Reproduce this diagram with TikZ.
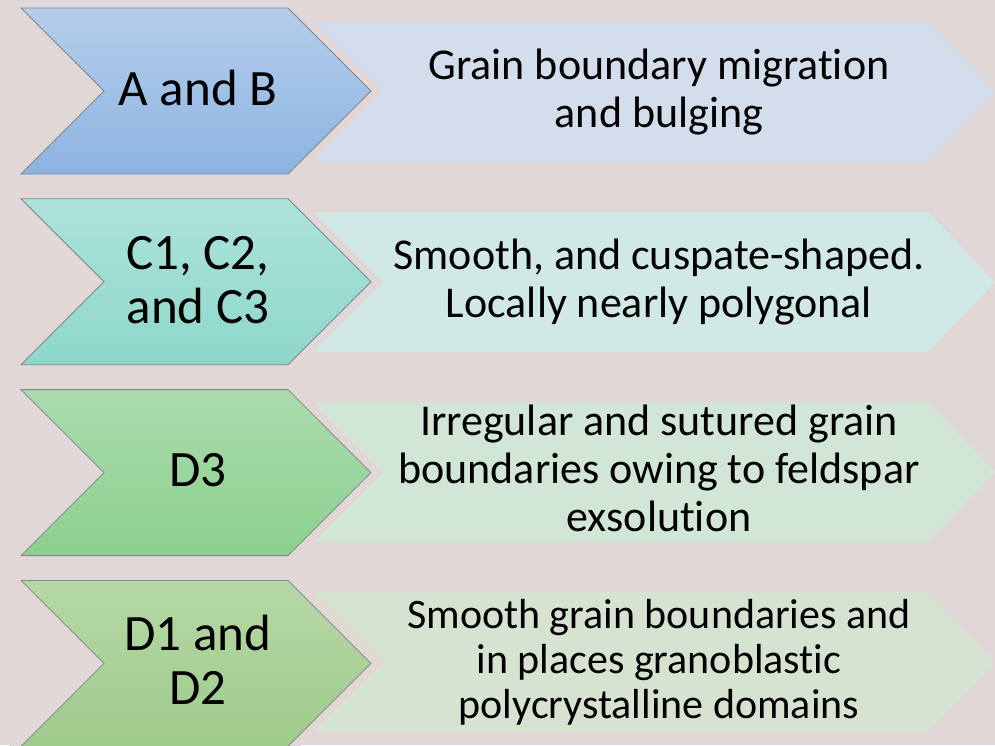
\documentclass[tikz,border=0pt]{standalone}
\usepackage{fontspec}
\setmainfont{Carlito}[Ligatures=NoCommon]
\usepackage{tikz}
\usetikzlibrary{shapes.symbols}
\usetikzlibrary{positioning}
\definecolor{bgcol}{RGB}{225,215,214}
\definecolor{edgecol}{RGB}{128,134,142}
\definecolor{abtop}{RGB}{180,206,235}
\definecolor{abbot}{RGB}{141,180,226}
\definecolor{ctop}{RGB}{173,227,218}
\definecolor{cbot}{RGB}{142,215,202}
\definecolor{dtop}{RGB}{171,219,173}
\definecolor{dbot}{RGB}{139,208,143}
\definecolor{ddtop}{RGB}{182,216,166}
\definecolor{ddbot}{RGB}{159,203,139}
\definecolor{abband}{RGB}{211,221,236}
\definecolor{cband}{RGB}{209,233,230}
\definecolor{dband}{RGB}{210,230,215}
\definecolor{ddband}{RGB}{215,227,209}
\tikzset{
	chevron/.style={
		signal,
		signal to=east,
		signal from=west,
		signal pointer angle=90,
		minimum width=350pt,
		minimum height=166pt,
		inner sep=0pt,
		draw=edgecol,
		line width=0.8pt,
		preaction={draw=bgcol, line width=17pt},
	},
	chevrontext/.style={
		inner sep=0pt,
		font=\fontsize{51}{54}\selectfont,
		text centered,
	},
	bandtext/.style={
		inner sep=0pt,
		font=\fontsize{44}{48}\selectfont,
		text centered,
	},
}
\begin{document}
\begin{tikzpicture}[x=1pt,y=-1pt]
	
	\useasboundingbox (0,0) rectangle (995,745);
	\fill[bgcol] (0,0) rectangle (995,745);
	
	% light bands behind
	\fill[abband] (316,22) -- (928,22) -- (995,92) -- (928,162) -- (316,162) -- cycle;
	\fill[cband] (316,212) -- (928,212) -- (995,282) -- (928,352) -- (316,352) -- cycle;
	\fill[dband] (316,402) -- (928,402) -- (995,472) -- (928,542) -- (316,542) -- cycle;
	\fill[ddband] (316,592) -- (928,592) -- (995,662) -- (928,732) -- (316,732) -- cycle;
	
	\node[bandtext] (ABTEXT) at (659,94)
	{
		\begin{tabular}{c}
		Grain boundary migration\\
		and bulging
		\end{tabular}
	};
	
	\node[bandtext] (CTEXT) at (659,284)
	{
		\begin{tabular}{c}
		Smooth, and cuspate-shaped.\\
		Locally nearly polygonal
		\end{tabular}
	};
	
	\node[bandtext] (DTHREETEXT) at (659,474)
	{
		\begin{tabular}{c}
		Irregular and sutured grain\\
		boundaries owing to feldspar\\
		exsolution
		\end{tabular}
	};
	
	\node[bandtext, font=\fontsize{42}{45}\selectfont] (DONETEXT) at (659,664)
	{
		\begin{tabular}{c}
		Smooth grain boundaries and\\
		in places granoblastic\\
		polycrystalline domains
		\end{tabular}
	};
	
	% chevrons on top
	\node[chevron, top color=abtop, bottom color=abbot] (AB) at (196,91) {};
	\node[chevron, top color=ctop, bottom color=cbot,
	below=24pt of AB] (CONE) {};
	\node[chevron, top color=dtop, bottom color=dbot,
	below=24pt of CONE] (DTHREE) {};
	\node[chevron, top color=ddtop, bottom color=ddbot,
	below=24pt of DTHREE] (DONE) {};
	
	\node[chevrontext] (ABLABEL) at ([xshift=2pt,yshift=-3.5pt]AB.center)
	{
		\begin{tabular}{c}
		A and B
		\end{tabular}
	};
	
	\node[chevrontext] (CLABEL) at ([xshift=2pt,yshift=-3.5pt]CONE.center)
	{
		\begin{tabular}{c}
		C1, C2,\\
		and C3
		\end{tabular}
	};
	
	\node[chevrontext] (DTHREELABEL) at ([xshift=2pt,yshift=-3.5pt]DTHREE.center)
	{
		\begin{tabular}{c}
		D3
		\end{tabular}
	};
	
	\node[chevrontext] (DONELABEL) at ([xshift=2pt,yshift=-3.5pt]DONE.center)
	{
		\begin{tabular}{c}
		D1 and\\
		D2
		\end{tabular}
	};
	
\end{tikzpicture}
\end{document}
